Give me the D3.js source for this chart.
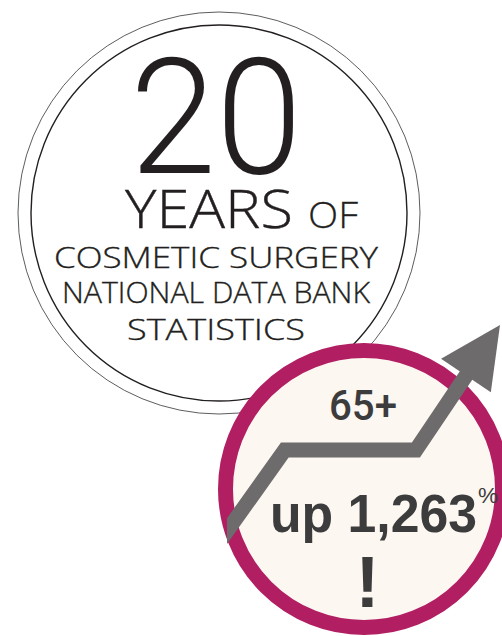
<!DOCTYPE html>
<html>
<head>
<meta charset="utf-8">
<script src="https://cdn.jsdelivr.net/npm/d3@7"></script>
<style>
html,body{margin:0;padding:0;background:#fff;}
svg{display:block;}
</style>
</head>
<body>
<svg id="chart" width="502" height="636"></svg>
<script>
// ---- data ----
const yearsSpan = 20;
const titleWord = "YEARS";
const titleSmall = "OF";
const subtitleLines = ["COSMETIC SURGERY", "NATIONAL DATA BANK", "STATISTICS"];
const ageGroup = "65+";
const growthPct = 1263;
const trendX = [0, 4.9, 14.1, 20];      // years (schematic trend)
const trendY = [0, 44, 44, 100];         // relative growth (schematic)

// ---- layout ----
const svg = d3.select("#chart");
const W = 502, H = 636;
svg.append("rect").attr("width", W).attr("height", H).attr("fill", "#fff");

const light = "Roboto, 'Liberation Sans', sans-serif";
const light2 = "'Open Sans', Roboto, sans-serif";
const bold = "'Liberation Sans', Arial, sans-serif";

// big badge
const big = svg.append("g").attr("transform", "translate(219,213)");
big.append("circle").attr("r", 201).attr("fill", "none").attr("stroke", "#333").attr("stroke-width", 0.8);
big.append("circle").attr("r", 188).attr("fill", "#fff").attr("stroke", "#231f20").attr("stroke-width", 1.4);

const txt = svg.append("g").attr("fill", "#231f20").attr("font-weight", 300);
txt.append("text").attr("x", 216).attr("y", 173).attr("text-anchor", "middle").attr("font-family", light)
  .attr("font-size", 162).attr("textLength", 172).attr("lengthAdjust", "spacingAndGlyphs")
  .text(String(yearsSpan));
txt.append("text").attr("x", 125).attr("y", 228).attr("font-family", light2)
  .attr("font-size", 53).attr("textLength", 168).attr("lengthAdjust", "spacingAndGlyphs")
  .attr("stroke", "#231f20").attr("stroke-width", 0.4)
  .text(titleWord);
txt.append("text").attr("x", 308).attr("y", 228).attr("font-family", light2)
  .attr("font-size", 37).attr("textLength", 50).attr("lengthAdjust", "spacingAndGlyphs")
  .attr("stroke", "#231f20").attr("stroke-width", 0.3)
  .text(titleSmall);
const subBase = [268, 303, 340];
const subLen = [324, 308, 178];
subtitleLines.forEach((s, i) => {
  txt.append("text").attr("x", 216).attr("y", subBase[i]).attr("text-anchor", "middle").attr("font-family", light2)
    .attr("font-size", 29).attr("textLength", subLen[i]).attr("lengthAdjust", "spacingAndGlyphs")
    .attr("stroke", "#231f20").attr("stroke-width", 0.35)
    .text(s);
});

// pink badge
svg.append("circle").attr("cx", 364).attr("cy", 489).attr("r", 138.5)
  .attr("fill", "#fcf7f1").attr("stroke", "#b11e62").attr("stroke-width", 15);

// trend arrow
const x = d3.scaleLinear().domain([0, 20]).range([215, 500]);
const y = d3.scaleLinear().domain([0, 100]).range([548, 325]);
const pts = trendX.map((v, i) => [x(v), y(trendY[i])]);
const tip = pts[pts.length - 1];
const prev = pts[pts.length - 2];
const dx = tip[0] - prev[0], dy = tip[1] - prev[1];
const len = Math.hypot(dx, dy);
const ux = dx / len, uy = dy / len;
const headLen = 61, headHalf = 30;
const base = [tip[0] - ux * headLen, tip[1] - uy * headLen];
const shaftPts = pts.slice(0, -1).concat([[base[0] + ux * 2, base[1] + uy * 2]]);

const defs = svg.append("defs");
defs.append("clipPath").attr("id", "arrowClip").append("rect")
  .attr("x", 227).attr("y", 0).attr("width", W).attr("height", H);

const arrow = svg.append("g").attr("clip-path", "url(#arrowClip)");
arrow.append("path")
  .attr("d", d3.line()(shaftPts))
  .attr("fill", "none").attr("stroke", "#6e6b6c").attr("stroke-width", 15)
  .attr("stroke-linejoin", "miter").attr("stroke-miterlimit", 10).attr("stroke-linecap", "butt");
arrow.append("path")
  .attr("d", d3.line()([
    tip,
    [base[0] - uy * headHalf, base[1] + ux * headHalf],
    [base[0] + uy * headHalf, base[1] - ux * headHalf]
  ]) + "Z")
  .attr("fill", "#6e6b6c");

// badge texts
const bt = svg.append("g").attr("fill", "#3c3c3d").attr("font-family", bold).attr("font-weight", 700);
bt.append("text").attr("x", 329).attr("y", 420).attr("font-size", 42).attr("font-family", light).attr("font-weight", 500)
  .attr("textLength", 68).attr("lengthAdjust", "spacingAndGlyphs").text(ageGroup);
bt.append("text").attr("x", 270).attr("y", 532).attr("font-size", 54)
  .attr("textLength", 207).attr("lengthAdjust", "spacingAndGlyphs")
  .text("up " + d3.format(",")(growthPct));
bt.append("text").attr("x", 478).attr("y", 503).attr("font-size", 22).attr("font-weight", 400)
  .attr("textLength", 20).attr("lengthAdjust", "spacingAndGlyphs").text("%");
bt.append("text").attr("x", 367.5).attr("y", 607).attr("font-size", 72).attr("text-anchor", "middle").text("!");
</script>
</body>
</html>
